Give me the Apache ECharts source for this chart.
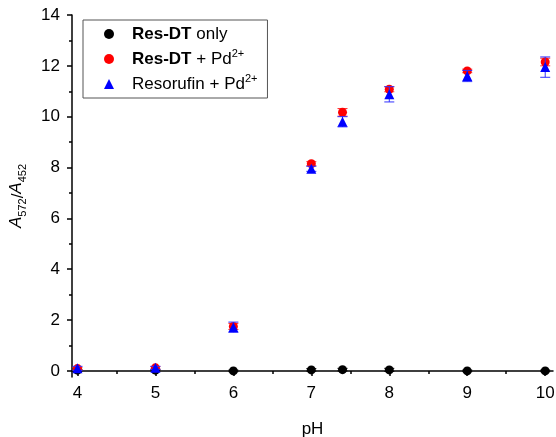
<!DOCTYPE html>
<html lang="en">
<head>
  <meta charset="UTF-8">
  <title>A572/A452 vs pH</title>
  <script src="https://cdn.jsdelivr.net/npm/echarts@6/dist/echarts.min.js"></script>
  <style>html, body { margin: 0; padding: 0; background: #fff; }</style>
</head>
<body>
  <div id="main" style="width:556px;height:437px;"></div>
  <script>
    // pH values and the three data sets (mean and error)
    var ph = [4, 5, 6, 7, 7.4, 8, 9, 10];
    var onlyVal = [0.03, 0.03, 0.0, 0.04, 0.05, 0.04, 0.0, 0.0];
    var onlyErr = [0.03, 0.03, 0.03, 0.05, 0.05, 0.06, 0.03, 0.03];
    var redVal = [0.09, 0.12, 1.75, 8.15, 10.17, 11.08, 11.8, 12.15];
    var redErr = [0.05, 0.05, 0.12, 0.08, 0.15, 0.1, 0.07, 0.15];
    var blueVal = [0.1, 0.12, 1.72, 7.95, 9.8, 10.88, 11.6, 11.95];
    var blueErr = [0.08, 0.06, 0.2, 0.1, 0.2, 0.3, 0.22, 0.4];

    var xTicks = [4, 5, 6, 7, 8, 9, 10];
    var xMinor = [4.5, 5.5, 6.5, 7.5, 8.5, 9.5];
    var yTicks = [0, 2, 4, 6, 8, 10, 12, 14];
    var yMinor = [1, 3, 5, 7, 9, 11, 13];

    var names = ['Res-DT only', 'Res-DT + Pd2+', 'Resorufin + Pd2+'];
    var font = 'Liberation Sans, Arial, sans-serif';

    function pts(vals) {
      return ph.map(function (x, i) { return [x, vals[i]]; });
    }
    function bars(vals, errs) {
      return ph.map(function (x, i) { return [x, vals[i] - errs[i], vals[i] + errs[i]]; });
    }
    function errorBars(color) {
      return function (params, api) {
        var x = api.value(0);
        var top = api.coord([x, api.value(2)]);
        var bot = api.coord([x, api.value(1)]);
        var w = 5;
        var st = { stroke: color, lineWidth: 1 };
        return {
          type: 'group',
          children: [
            { type: 'line', shape: { x1: top[0], y1: top[1], x2: bot[0], y2: bot[1] }, style: st },
            { type: 'line', shape: { x1: top[0] - w, y1: top[1], x2: top[0] + w, y2: top[1] }, style: st },
            { type: 'line', shape: { x1: bot[0] - w, y1: bot[1], x2: bot[0] + w, y2: bot[1] }, style: st }
          ]
        };
      };
    }

    var axisLine = { show: true, lineStyle: { color: '#000', width: 1.5 } };

    var myChart = echarts.init(document.getElementById('main'));
    var option = {
      animation: false,
      textStyle: { fontFamily: font },
      grid: { left: 72, right: 3, top: 15, bottom: 60, outerBoundsMode: 'none' },
      legend: {
        orient: 'vertical',
        left: 83,
        top: 20,
        padding: [3, 10, 3, 21],
        itemGap: 3,
        itemWidth: 10,
        itemHeight: 10,
        borderColor: '#555',
        borderWidth: 1,
        data: [
          { name: names[0], icon: 'circle' },
          { name: names[1], icon: 'circle' },
          { name: names[2], icon: 'triangle' }
        ],
        formatter: function (n) {
          if (n === names[0]) return '{b|Res-DT} only';
          if (n === names[1]) return '{b|Res-DT} + Pd{sup|2+}';
          return 'Resorufin + Pd{sup|2+}';
        },
        textStyle: {
          fontFamily: font,
          fontSize: 17,
          color: '#000',
          lineHeight: 22,
          padding: [0, 0, 0, 13],
          rich: {
            b: { fontFamily: font, fontSize: 17, fontWeight: 'bold', color: '#000', lineHeight: 22 },
            sup: { fontFamily: font, fontSize: 11, color: '#000', verticalAlign: 'top', lineHeight: 10 }
          }
        }
      },
      xAxis: [{
        type: 'value',
        min: 3.93,
        max: 10.1,
        name: 'pH',
        nameLocation: 'middle',
        nameGap: 44,
        nameTextStyle: { fontFamily: font, fontSize: 17, color: '#000' },
        axisLine: axisLine,
        axisTick: { show: true, length: 5, lineStyle: { color: '#000', width: 1.5 }, customValues: xTicks },
        axisLabel: { fontFamily: font, fontSize: 17, color: '#000', margin: 8, customValues: xTicks },
        splitLine: { show: false }
      }, {
        type: 'value',
        position: 'bottom',
        min: 3.93,
        max: 10.1,
        axisLine: { show: false },
        axisTick: { show: true, length: 3, lineStyle: { color: '#000', width: 1.5 }, customValues: xMinor },
        axisLabel: { show: false },
        splitLine: { show: false }
      }],
      yAxis: [{
        type: 'value',
        min: -0.24,
        max: 14,
        name: '{i|A}{s|572}/{i|A}{s|452}',
        nameLocation: 'middle',
        nameGap: 44,
        nameTextStyle: {
          fontFamily: font, fontSize: 17, color: '#000',
          rich: {
            i: { fontFamily: font, fontSize: 17, fontStyle: 'italic', color: '#000', lineHeight: 20, verticalAlign: 'top' },
            s: { fontFamily: font, fontSize: 11, color: '#000', lineHeight: 10, verticalAlign: 'bottom' }
          }
        },
        axisLine: axisLine,
        axisTick: { show: true, length: 5, lineStyle: { color: '#000', width: 1.5 }, customValues: yTicks },
        axisLabel: { fontFamily: font, fontSize: 17, color: '#000', margin: 12, customValues: yTicks },
        splitLine: { show: false }
      }, {
        type: 'value',
        position: 'left',
        min: -0.24,
        max: 14,
        axisLine: { show: false },
        axisTick: { show: true, length: 3, lineStyle: { color: '#000', width: 1.5 }, customValues: yMinor },
        axisLabel: { show: false },
        splitLine: { show: false }
      }],
      series: [
        { name: names[0], type: 'scatter', symbol: 'circle', symbolSize: 9, itemStyle: { color: '#000', opacity: 1 }, data: pts(onlyVal), z: 3 },
        { name: names[1], type: 'scatter', symbol: 'circle', symbolSize: 9, itemStyle: { color: '#ff0000', opacity: 1 }, data: pts(redVal), z: 4 },
        { name: names[2], type: 'scatter', symbol: 'triangle', symbolSize: 10, itemStyle: { color: '#0000ff', opacity: 1 }, data: pts(blueVal), z: 5 },
        { type: 'custom', renderItem: errorBars('#000'), data: bars(onlyVal, onlyErr), z: 3 },
        { type: 'custom', renderItem: errorBars('#ff3030'), data: bars(redVal, redErr), z: 4 },
        { type: 'custom', renderItem: errorBars('#3030ff'), data: bars(blueVal, blueErr), z: 5 }
      ]
    };
    myChart.setOption(option);
  </script>
</body>
</html>
